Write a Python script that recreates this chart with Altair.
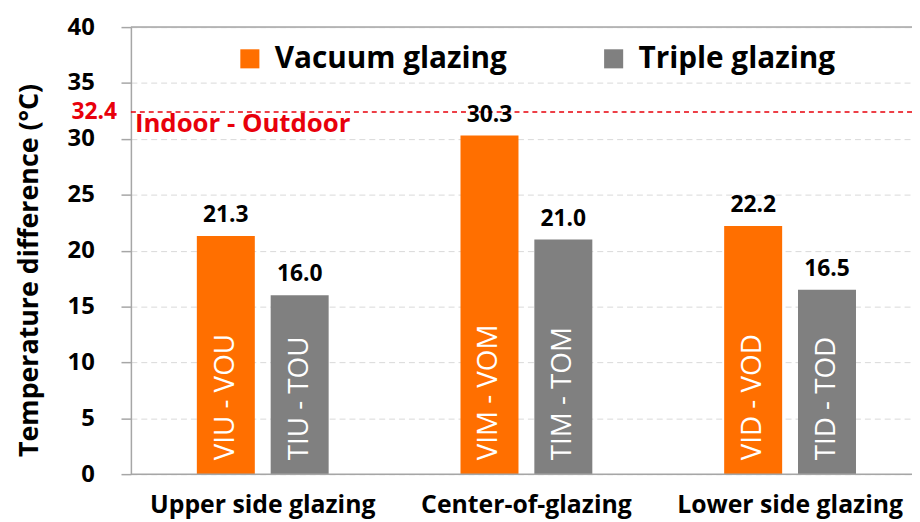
import altair as alt
import pandas as pd

categories = ["Upper side glazing", "Center-of-glazing", "Lower side glazing"]
series = ["Vacuum glazing", "Triple glazing"]
vacuum = [21.3, 30.3, 22.2]
triple = [16.0, 21.0, 16.5]
vacuum_tags = ["VIU - VOU", "VIM - VOM", "VID - VOD"]
triple_tags = ["TIU - TOU", "TIM - TOM", "TID - TOD"]
ref_value = 32.4
ref_label = "Indoor - Outdoor"
y_ticks = [0, 5, 10, 15, 20, 25, 30, 35, 40]

colors = ["#FF6F00", "#808080"]
FONT = "Open Sans"

rows = []
for i, c in enumerate(categories):
    rows.append({"cat": c, "series": series[0], "value": vacuum[i], "tag": vacuum_tags[i]})
    rows.append({"cat": c, "series": series[1], "value": triple[i], "tag": triple_tags[i]})
df = pd.DataFrame(rows)

W = 788
H = 451

x_enc = alt.X("cat:N", sort=categories,
              scale=alt.Scale(range=[0, 798], paddingInner=0, paddingOuter=0),
              axis=alt.Axis(title=None, labelAngle=0, ticks=False, domain=False,
                            labelFont=FONT, labelFontSize=25, labelFontWeight="bold",
                            labelColor="#000000", labelPadding=19, labelLimit=400))
xo_enc = alt.XOffset("series:N", sort=series,
                     scale=alt.Scale(paddingInner=0.215, paddingOuter=0.893))
color_enc = alt.Color("series:N", sort=series,
                      scale=alt.Scale(domain=series, range=colors),
                      legend=alt.Legend(title=None, orient="none", legendX=105, legendY=17,
                                        direction="horizontal", symbolType="square",
                                        symbolSize=370, symbolStrokeWidth=0, symbolOpacity=1,
                                        labelFont=FONT, labelFontSize=30, labelFontWeight="bold",
                                        labelColor="#000000", labelOffset=10,
                                        columnPadding=92, labelLimit=400))

y_scale = alt.Scale(domain=[0, 40], nice=False)

bars = alt.Chart(df).mark_bar(size=58.5).encode(
    x=x_enc, xOffset=xo_enc,
    y=alt.Y("value:Q", scale=y_scale,
            axis=alt.Axis(values=y_ticks, title="Temperature difference (°C)",
                          titleFont=FONT, titleFontSize=27, titleFontWeight="bold",
                          titleColor="#000000", titleAngle=270, titleX=-102, titleY=245,
                          titleAlign="center", titleBaseline="middle",
                          labelFont=FONT, labelFontSize=24, labelFontWeight="bold",
                          labelColor="#000000", labelPadding=27,
                          tickSize=10, tickColor="#A6A6A6", tickWidth=1.5,
                          domainColor="#A6A6A6", domainWidth=1.5,
                          grid=True, gridColor="#D9D9D9", gridDash=[6, 4], gridWidth=1)),
    color=color_enc,
)

values = alt.Chart(df).mark_text(font=FONT, fontSize=23, fontWeight="bold",
                                 color="#000000", baseline="bottom", dy=-9).encode(
    x=alt.X("cat:N", sort=categories), xOffset=alt.XOffset("series:N", sort=series),
    y=alt.Y("value:Q", scale=y_scale),
    text=alt.Text("value:Q", format=".1f"),
)

tags = alt.Chart(df).mark_text(font=FONT, fontSize=28, color="#FFFFFF",
                               angle=270, align="left", baseline="middle", dx=14).encode(
    x=alt.X("cat:N", sort=categories), xOffset=alt.XOffset("series:N", sort=series),
    y=alt.Y("zero:Q", scale=y_scale),
    text="tag:N",
).transform_calculate(zero="0")

base_df = pd.DataFrame({"v": [0, 40]})
frame = alt.Chart(base_df).mark_rule(color="#A6A6A6", strokeWidth=1.5).encode(
    y=alt.Y("v:Q", scale=y_scale))

ref_df = pd.DataFrame({"v": [ref_value], "num": [f"{ref_value:.1f}"], "lab": [ref_label]})
ref_rule = alt.Chart(ref_df).mark_rule(color="#E8000B", strokeWidth=1.5, strokeDash=[5, 4]).encode(
    y=alt.Y("v:Q", scale=y_scale))
ref_num = alt.Chart(ref_df).mark_text(font=FONT, fontSize=23, fontWeight="bold", color="#E8000B",
                                      align="right", baseline="middle", dx=-14).encode(
    x=alt.value(0), y=alt.Y("v:Q", scale=y_scale), text="num:N")
ref_lab = alt.Chart(ref_df).mark_text(font=FONT, fontSize=26, fontWeight="bold", color="#E8000B",
                                      align="left", baseline="top", dx=4, dy=-1).encode(
    x=alt.value(0), y=alt.Y("v:Q", scale=y_scale), text="lab:N")

chart = alt.layer(bars, frame, ref_rule, values, tags, ref_num, ref_lab).properties(
    width=W, height=H,
    autosize=alt.AutoSizeParams(type="none"),
    padding={"left": 124, "top": 17, "right": 0, "bottom": 46},
).configure_view(stroke=None).configure(background="#FFFFFF")

chart.save("out.html", embed_options={"renderer": "svg", "actions": False})
